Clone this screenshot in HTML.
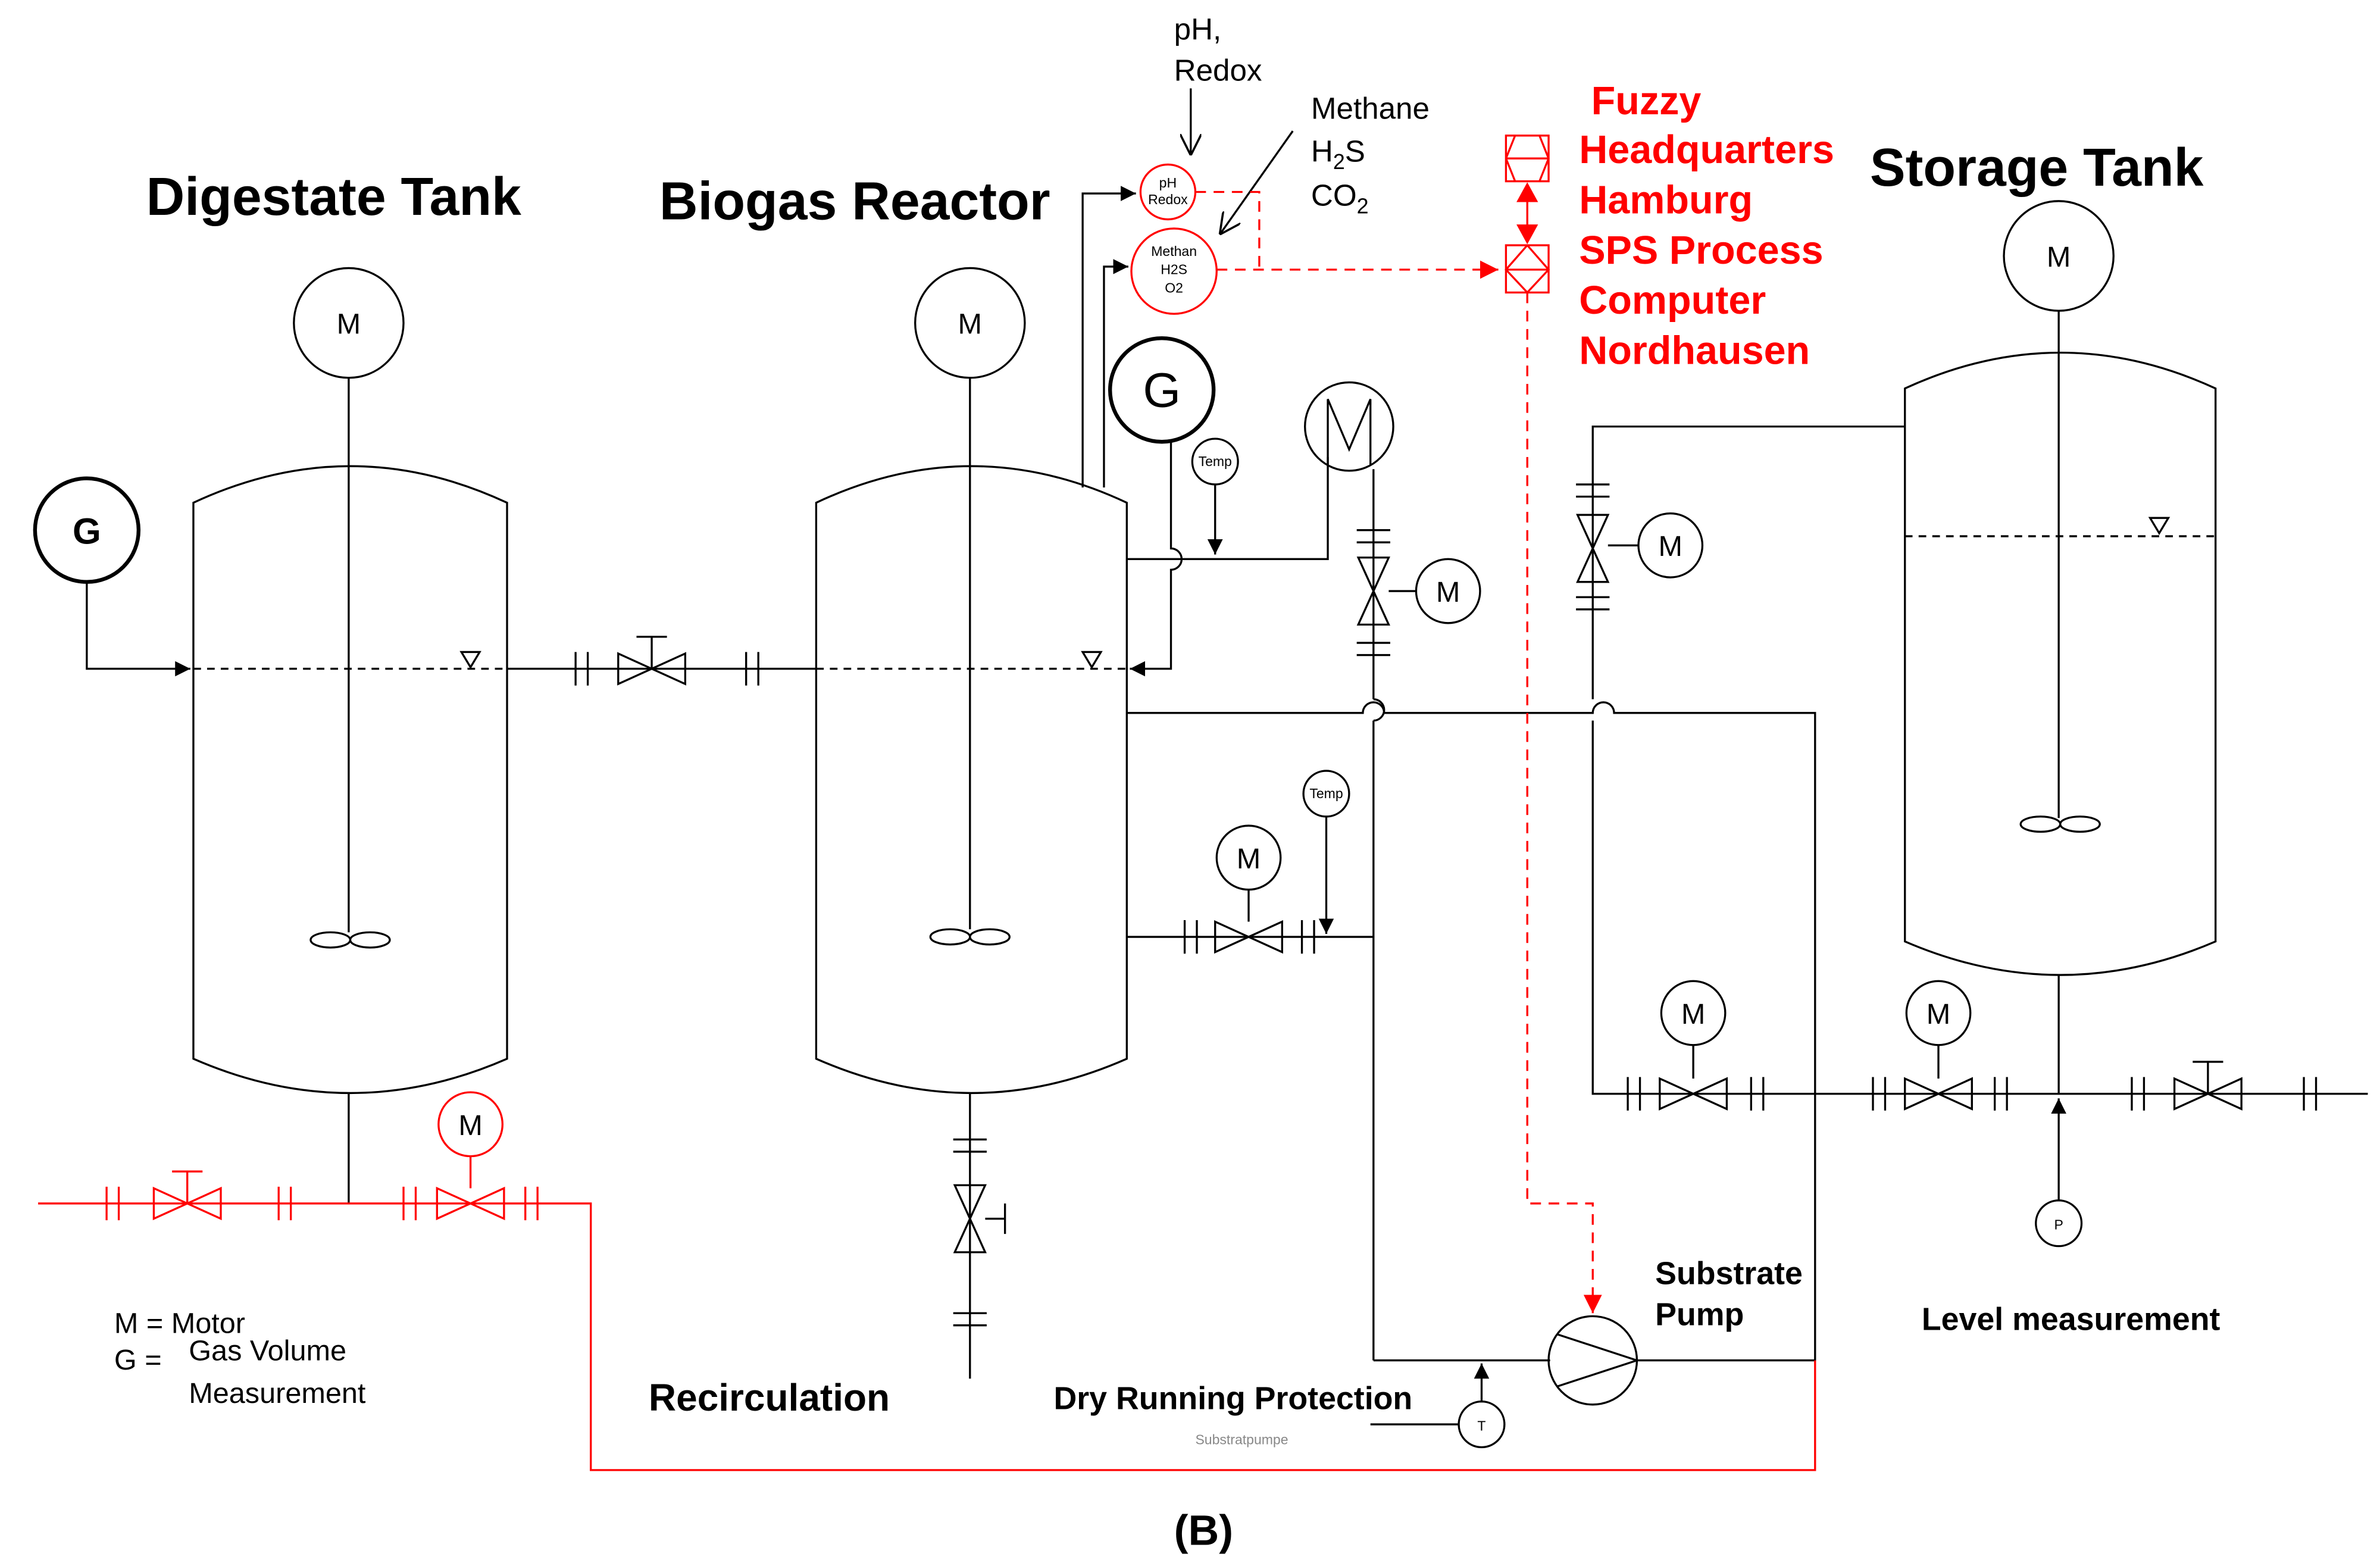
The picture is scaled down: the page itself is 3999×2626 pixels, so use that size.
<!DOCTYPE html>
<html><head><meta charset="utf-8"><style>
html,body{margin:0;padding:0;background:#fff;}
svg{display:block;}
text{font-family:"Liberation Sans",Arial,sans-serif;}
</style></head><body>
<svg width="3999" height="2626" viewBox="0 0 1563 1026" preserveAspectRatio="none" xmlns="http://www.w3.org/2000/svg">
<defs>
<g id="fh"><line x1="-4" y1="-11" x2="-4" y2="11"/><line x1="4" y1="-11" x2="4" y2="11"/></g>
<g id="fv"><line y1="-4" x1="-11" y2="-4" x2="11"/><line y1="4" x1="-11" y2="4" x2="11"/></g>
<path id="vh" d="M-22,-10 L22,10 L22,-10 L-22,10 Z" fill="none"/>
<path id="vv" d="M-10,-22 L10,22 L-10,22 L10,-22 Z" fill="none"/>
<g id="prop"><ellipse cx="-13" cy="0" rx="13" ry="5" fill="none"/><ellipse cx="13" cy="0" rx="13" ry="5" fill="none"/></g>
<marker id="ar" viewBox="0 0 10 10" refX="10" refY="5" markerWidth="10" markerHeight="10" markerUnits="userSpaceOnUse" orient="auto"><path d="M0,0 L10,5 L0,10 Z" fill="#000"/></marker>
<marker id="arr" viewBox="0 0 10 10" refX="10" refY="5" markerWidth="12" markerHeight="12" markerUnits="userSpaceOnUse" orient="auto"><path d="M0,0 L10,5 L0,10 Z" fill="#f00"/></marker>
<marker id="ao" viewBox="0 0 10 10" refX="10" refY="5" markerWidth="14" markerHeight="14" markerUnits="userSpaceOnUse" orient="auto"><path d="M0,0 L10,5 L0,10" fill="none" stroke="#000" stroke-width="1"/></marker>
</defs>
<g stroke="#000" stroke-width="1.3" fill="none">
<!-- Digestate tank -->
<path d="M127,330 Q230,282 333,330 L333,695 Q230,740 127,695 Z"/>
<circle cx="229" cy="212" r="36"/>
<line x1="229" y1="248" x2="229" y2="612"/>
<use href="#prop" x="230" y="617"/>
<line x1="127" y1="439" x2="333" y2="439" stroke-dasharray="5,4"/>
<path d="M303,428 L315,428 L309,438 Z"/>
<circle cx="57" cy="348" r="34" stroke-width="2.5"/>
<path d="M57,382 L57,439 L125,439" marker-end="url(#ar)"/>
<!-- connection pipe -->
<line x1="333" y1="439" x2="536" y2="439"/>
<use href="#fh" x="382" y="439"/><use href="#fh" x="494" y="439"/>
<use href="#vh" x="428" y="439" fill="#fff"/>
<path d="M428,439 L428,418 M418,418 L438,418"/>
<!-- Biogas reactor -->
<path d="M536,330 Q638,282 740,330 L740,695 Q638,740 536,695 Z"/>
<circle cx="637" cy="212" r="36"/>
<line x1="637" y1="248" x2="637" y2="610"/>
<use href="#prop" x="637" y="615"/>
<line x1="536" y1="439" x2="740" y2="439" stroke-dasharray="5,4"/>
<path d="M711,428 L723,428 L717,438 Z"/>
<line x1="637" y1="718" x2="637" y2="905"/>
<use href="#fv" x="637" y="752"/><use href="#fv" x="637" y="866"/>
<use href="#vv" x="637" y="800"/>
<path d="M647,800 L660,800 M660,790 L660,810"/>
<!-- sensor lines -->
<path d="M711,320 L711,127 L746,127" marker-end="url(#ar)"/>
<path d="M725,320 L725,175 L741,175" marker-end="url(#ar)"/>
<path d="M782,58 L782,102" marker-end="url(#ao)"/>
<path d="M849,86 L801,154" marker-end="url(#ao)"/>
<!-- G on reactor -->
<circle cx="763" cy="256" r="34" stroke-width="2.5"/>
<path d="M769,290 L769,360 A7,7 0 0 1 769,374 L769,439 L742,439" marker-end="url(#ar)"/>
<circle cx="798" cy="303" r="15"/>
<path d="M798,318 L798,364" marker-end="url(#ar)"/>
<path d="M740,367 L872,367 L872,300"/>
<circle cx="886" cy="280" r="29"/>
<path d="M872,305 L872,262 L886,295 L900,262 L900,305"/>
<line x1="902" y1="308" x2="902" y2="459"/>
<path d="M902,459 A7,7 0 0 1 902,473"/>
<line x1="902" y1="473" x2="902" y2="893"/>
<use href="#fv" x="902" y="352"/><use href="#fv" x="902" y="426"/>
<use href="#vv" x="902" y="388"/>
<line x1="912" y1="388" x2="930" y2="388"/><circle cx="951" cy="388" r="21"/>
<!-- main horizontal -->
<path d="M740,468 L895,468 A7,7 0 0 1 909,468 L1046,468 A7,7 0 0 1 1060,468 L1192,468 L1192,893 L1075,893"/>
<!-- recirculation -->
<line x1="740" y1="615" x2="902" y2="615"/>
<use href="#fh" x="782" y="615"/><use href="#fh" x="859" y="615"/>
<use href="#vh" x="820" y="615"/>
<line x1="820" y1="605" x2="820" y2="584"/><circle cx="820" cy="563" r="21"/>
<circle cx="871" cy="521" r="15"/>
<path d="M871,536 L871,613" marker-end="url(#ar)"/>
<path d="M902,893 L1018,893"/>
<circle cx="1046" cy="893" r="29"/>
<path d="M1023,876 L1075,893 L1023,910"/>
<path d="M973,920 L973,895" marker-end="url(#ar)"/>
<circle cx="973" cy="935" r="15"/>
<line x1="900" y1="935" x2="958" y2="935"/>
<!-- storage tank -->
<path d="M1251,255 Q1353,208 1455,255 L1455,618 Q1353,662 1251,618 Z"/>
<circle cx="1352" cy="168" r="36"/>
<line x1="1352" y1="204" x2="1352" y2="537"/>
<use href="#prop" x="1353" y="541"/>
<line x1="1251" y1="352" x2="1455" y2="352" stroke-dasharray="5,4"/>
<path d="M1412,340 L1424,340 L1418,350 Z"/>
<path d="M1251,280 L1046,280 L1046,459 M1046,473 L1046,718 L1555,718"/>
<use href="#fv" x="1046" y="322"/><use href="#fv" x="1046" y="396"/>
<use href="#vv" x="1046" y="360"/>
<line x1="1056" y1="358" x2="1076" y2="358"/><circle cx="1097" cy="358" r="21"/>
<use href="#fh" x="1073" y="718"/><use href="#fh" x="1154" y="718"/>
<use href="#vh" x="1112" y="718"/>
<line x1="1112" y1="708" x2="1112" y2="686"/><circle cx="1112" cy="665" r="21"/>
<use href="#fh" x="1234" y="718"/><use href="#fh" x="1314" y="718"/>
<use href="#vh" x="1273" y="718"/>
<line x1="1273" y1="708" x2="1273" y2="686"/><circle cx="1273" cy="665" r="21"/>
<line x1="1352" y1="640" x2="1352" y2="718"/>
<use href="#fh" x="1404" y="718"/><use href="#fh" x="1517" y="718"/>
<use href="#vh" x="1450" y="718" fill="#fff"/>
<path d="M1450,718 L1450,697 M1440,697 L1460,697"/>
<circle cx="1352" cy="803" r="15"/>
<path d="M1352,788 L1352,721" marker-end="url(#ar)"/>
<line x1="229" y1="718" x2="229" y2="790"/>
</g>
<!-- red pipes -->
<g stroke="#f00" stroke-width="1.3" fill="none">
<path d="M25,790 L229,790 L388,790 L388,965 L1192,965 L1192,893"/>
<use href="#fh" x="74" y="790"/><use href="#fh" x="187" y="790"/>
<use href="#fh" x="269" y="790"/><use href="#fh" x="349" y="790"/>
<use href="#vh" x="123" y="790" fill="#fff"/>
<path d="M123,790 L123,769 M113,769 L133,769"/>
<use href="#vh" x="309" y="790" fill="#fff"/>
<line x1="309" y1="780" x2="309" y2="759"/><circle cx="309" cy="738" r="21"/>
<circle cx="767" cy="126" r="18"/>
<circle cx="771" cy="178" r="28"/>
<path d="M785,126 L827,126 L827,177 M799,177 L984,177" stroke-dasharray="7,5" marker-end="url(#arr)"/>
<path d="M1003,192 L1003,790 L1046,790 L1046,862" stroke-dasharray="7,5" marker-end="url(#arr)"/>
<rect x="989" y="89" width="28" height="30"/>
<path d="M989,104 L1017,104 M989,104 L995,89 M1011,89 L1017,104 L1011,119 M995,119 L989,104"/>
<rect x="989" y="161" width="28" height="31"/>
<path d="M989,177 L1017,177 M1003,161 L989,177 L1003,192 M1003,161 L1017,177 L1003,192"/>
<path d="M1003,131 L1003,148" />
<path d="M997,132 L1003,121 L1009,132 Z M997,148 L1003,159 L1009,148 Z" fill="#f00"/>
</g>
<!-- sensor texts -->
<g font-size="9" text-anchor="middle" fill="#000">
<text x="767" y="123">pH</text><text x="767" y="134">Redox</text>
<text x="771" y="168">Methan</text><text x="771" y="180">H2S</text><text x="771" y="192">O2</text>
<text x="798" y="306">Temp</text><text x="871" y="524">Temp</text>
<text x="973" y="939">T</text><text x="1352" y="807">P</text>
</g>
<g font-size="20" fill="#000">
<text x="229" y="219" text-anchor="middle" font-size="19">M</text>
<text x="637" y="219" text-anchor="middle" font-size="19">M</text>
<text x="1352" y="175" text-anchor="middle" font-size="19">M</text>
<text x="951" y="395" text-anchor="middle" font-size="19">M</text>
<text x="1097" y="365" text-anchor="middle" font-size="19">M</text>
<text x="820" y="570" text-anchor="middle" font-size="19">M</text>
<text x="1112" y="672" text-anchor="middle" font-size="19">M</text>
<text x="1273" y="672" text-anchor="middle" font-size="19">M</text>
<text x="309" y="745" text-anchor="middle" font-size="19" fill="#000">M</text>
<text x="57" y="357" text-anchor="middle" font-size="24" font-weight="bold">G</text>
<text x="763" y="267" text-anchor="middle" font-size="32">G</text>
<text x="771" y="26">pH,</text><text x="771" y="53">Redox</text>
<text x="861" y="78">Methane</text>
<text x="861" y="106">H<tspan font-size="14" dy="5">2</tspan><tspan dy="-5">S</tspan></text>
<text x="861" y="135">CO<tspan font-size="14" dy="5">2</tspan></text>
<text x="75" y="875" font-size="19">M = Motor</text>
<text x="75" y="899" font-size="19">G =</text>
<text x="124" y="893" font-size="19">Gas Volume</text>
<text x="124" y="921" font-size="19">Measurement</text>
</g>
<g font-weight="bold" fill="#000">
<text x="96" y="141" font-size="35">Digestate Tank</text>
<text x="433" y="144" font-size="35">Biogas Reactor</text>
<text x="1228" y="122" font-size="35">Storage Tank</text>
<text x="426" y="926" font-size="25">Recirculation</text>
<text x="692" y="925" font-size="21">Dry Running Protection</text>
<text x="1087" y="843" font-size="21">Substrate</text>
<text x="1087" y="870" font-size="21">Pump</text>
<text x="1262" y="873" font-size="21">Level measurement</text>
</g>
<text x="785" y="948" font-size="9" fill="#888">Substratpumpe</text>
<g font-weight="bold" fill="#f00" font-size="26">
<text x="1045" y="75">Fuzzy</text>
<text x="1037" y="107">Headquarters</text>
<text x="1037" y="140">Hamburg</text>
<text x="1037" y="173">SPS Process</text>
<text x="1037" y="206">Computer</text>
<text x="1037" y="239">Nordhausen</text>
</g>
<text x="771" y="1014" font-size="28" font-weight="bold" font-family="Liberation Serif,serif" fill="#000">(B)</text>
</svg>
</body></html>
